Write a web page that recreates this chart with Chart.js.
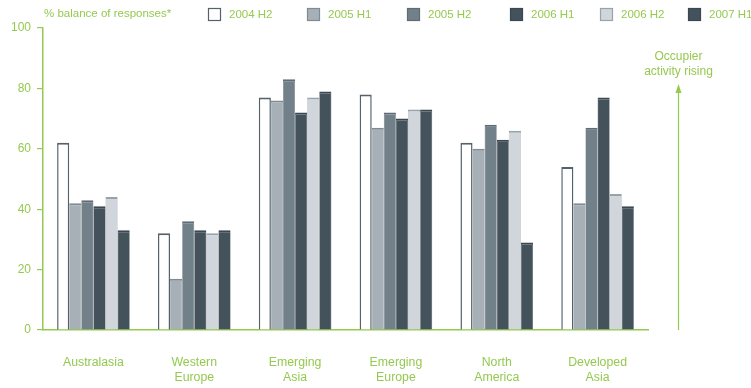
<!DOCTYPE html>
<html lang="en">
<head>
  <meta charset="UTF-8">
  <title>Occupier activity by region</title>
  <script src="https://cdn.jsdelivr.net/npm/chart.js"></script>
  <style>
    html, body { margin: 0; padding: 0; background: #fff; }
    #wrap { width: 751px; height: 388px; position: relative; }
  </style>
</head>
<body>
  <div id="wrap"><canvas id="chart" width="751" height="388"></canvas></div>
  <script>
    const regioni = [
      ['Australasia'], ['Western', 'Europe'], ['Emerging', 'Asia'],
      ['Emerging', 'Europe'], ['North', 'America'], ['Developed', 'Asia']
    ];
    const periodi = ['2004 H2', '2005 H1', '2005 H2', '2006 H1', '2006 H2', '2007 H1'];

    const v2004H2 = [62, 32, 77, 78, 62, 54];
    const v2005H1 = [42, 17, 76, 67, 60, 42];
    const v2005H2 = [43, 36, 83, 72, 68, 67];
    const v2006H1 = [41, 33, 72, 70, 63, 77];
    const v2006H2 = [44, 32, 77, 73, 66, 45];
    const v2007H1 = [33, 33, 79, 73, 29, 41];

    const yTicks = [0, 20, 40, 60, 80, 100];

    const verde = '#95c950';
    const font = { family: 'Liberation Sans, Arial, sans-serif', size: 11.5 };

    const riempimenti = ['#ffffff', '#a7b0b7', '#72808a', '#44525c', '#d0d6db', '#44525c'];
    const bordi = ['#55626c', '#7f8a93', '#5f6c76', '#3b4851', '#98a2aa', '#3b4851'];
    const serie = [v2004H2, v2005H1, v2005H2, v2006H1, v2006H2, v2007H1];

    // legenda in alto e freccia a destra
    const extra = {
      id: 'extra',
      afterDraw(chart) {
        const ctx = chart.ctx;
        ctx.save();
        ctx.font = `${font.size}px ${font.family}`;
        ctx.fillStyle = verde;
        ctx.textBaseline = 'middle';
        ctx.textAlign = 'left';
        ctx.fillText('% balance of responses*', 44, 14);

        const boxX = [208, 307, 407, 510, 600, 688];
        periodi.forEach((p, i) => {
          const x = boxX[i];
          ctx.fillStyle = riempimenti[i];
          ctx.fillRect(x, 8, 13, 13);
          ctx.strokeStyle = bordi[i];
          ctx.lineWidth = 1.2;
          ctx.strokeRect(x + 0.5, 8.5, 12, 12);
          ctx.fillStyle = verde;
          ctx.fillText(p, x + 21, 15);
        });

        // freccia "Occupier activity rising"
        const ax = 678.5;
        ctx.strokeStyle = verde;
        ctx.lineWidth = 1.2;
        ctx.beginPath();
        ctx.moveTo(ax, 330);
        ctx.lineTo(ax, 90);
        ctx.stroke();
        ctx.fillStyle = verde;
        ctx.beginPath();
        ctx.moveTo(ax, 84);
        ctx.lineTo(ax - 3, 93);
        ctx.lineTo(ax + 3, 93);
        ctx.closePath();
        ctx.fill();
        ctx.textAlign = 'center';
        ctx.font = `12px ${font.family}`;
        ctx.fillText('Occupier', ax, 57);
        ctx.fillText('activity rising', ax, 72);
        ctx.restore();
      }
    };

    const ctx = document.getElementById('chart').getContext('2d');
    const chart = new Chart(ctx, {
      type: 'bar',
      data: {
        labels: regioni,
        datasets: periodi.map((p, i) => ({
          label: p,
          data: serie[i],
          backgroundColor: riempimenti[i],
          borderColor: bordi[i],
          borderWidth: i === 0 ? { top: 2, left: 1.5, right: 1.5, bottom: 0 } : { top: 2, left: 0.5, right: 0.5, bottom: 0 },
          borderSkipped: false,
          barPercentage: 1,
          categoryPercentage: 0.72
        }))
      },
      options: {
        responsive: false,
        animation: false,
        layout: { padding: { left: 0, right: 103, top: 28, bottom: 0 } },
        plugins: { legend: { display: false }, tooltip: { enabled: false } },
        scales: {
          x: {
            grid: { display: false, drawTicks: false },
            border: { color: verde, width: 1.5 },
            ticks: { color: verde, font: { family: font.family, size: 12.3, lineHeight: 1.15 }, padding: 26, maxRotation: 0 },
            afterFit(scale) { scale.height = 58; }
          },
          y: {
            min: 0,
            max: 100,
            afterBuildTicks(scale) { scale.ticks = yTicks.map(v => ({ value: v })); },
            grid: { drawOnChartArea: false, drawTicks: true, tickLength: 6, color: verde, lineWidth: 1.2 },
            border: { color: verde, width: 1.5 },
            ticks: { color: verde, font: { family: font.family, size: 12 }, padding: 6 },
            afterFit(scale) { scale.width = 43; }
          }
        }
      },
      plugins: [extra]
    });
  </script>
</body>
</html>
